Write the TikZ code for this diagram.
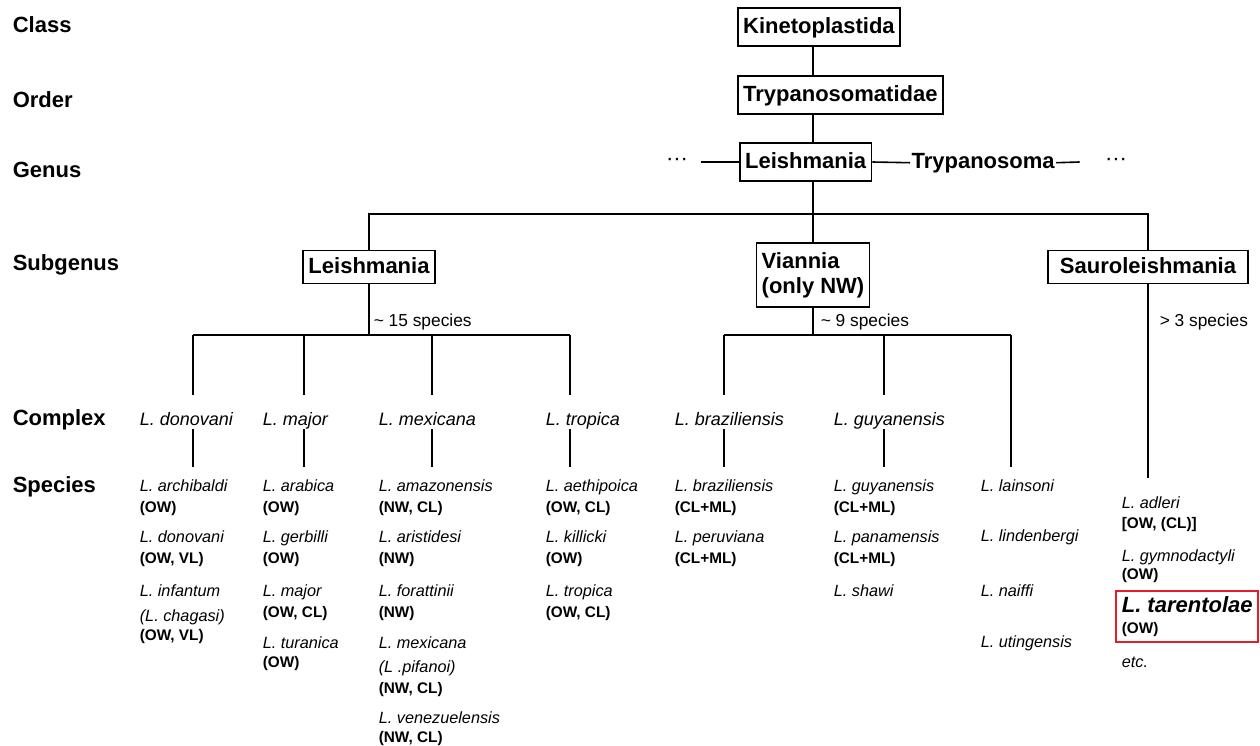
\documentclass[tikz,border=0pt]{standalone}
\usepackage{fontspec}
\setmainfont{Liberation Sans}
\usetikzlibrary{fit}
\definecolor{markred}{RGB}{226,30,42}

\begin{document}
\begin{tikzpicture}[x=0.75pt, y=-0.75pt, line width=1.2pt,
rankbox/.style={draw, line width=1.2pt, font=\bfseries\fontsize{16.5}{19}\selectfont, inner xsep=4pt, inner ysep=0pt, minimum height=28.5pt, text height=12.5pt, text depth=3.5pt},
subbox/.style={rankbox, minimum height=25pt},
twobox/.style={draw, line width=1.2pt, font=\bfseries\fontsize{16.5}{19}\selectfont, inner xsep=4pt, align=left, minimum height=48pt},
ranklabel/.style={font=\bfseries\fontsize{16.5}{19}\selectfont, anchor=base west, inner sep=0pt},
ellip/.style={font=\fontsize{16.5}{19}\selectfont, inner ysep=0pt},
complexname/.style={font=\itshape\fontsize{13.5}{16}\selectfont, anchor=base west, inner sep=0pt, text height=10.1pt, text depth=2.7pt},
speciesname/.style={font=\itshape\fontsize{12.2}{14}\selectfont, anchor=base west, inner sep=0pt, text height=9.15pt, text depth=2.4pt},
distrib/.style={font=\bfseries\fontsize{11.5}{13}\selectfont, anchor=base west, inner sep=0pt},
spcount/.style={font=\fontsize{13}{15}\selectfont, anchor=base west, inner sep=0pt},
highlight/.style={font=\bfseries\itshape\fontsize{16.5}{19}\selectfont, anchor=base west, inner sep=0pt},
tocomplex/.style={shorten >=12pt},
tospecies/.style={shorten >=8pt},
]
\useasboundingbox (0,0) rectangle (1260,746);

%Rank labels
\node[ranklabel] (lclass) at (12,32) {Class};
\node[ranklabel] (lorder) at (12,107) {Order};
\node[ranklabel] (lgenus) at (12,177) {Genus};
\node[ranklabel] (lsub) at (12,270) {Subgenus};
\node[ranklabel] (lcomp) at (12,425) {Complex};
\node[ranklabel] (lspec) at (12,492) {Species};

%Upper boxes
\node[rankbox, anchor=west] (kin) at (737,27) {Kinetoplastida};
\node[rankbox, anchor=west] (tryp) at (737,95) {Trypanosomatidae};
\node[rankbox, anchor=west] (genus) at (739,162) {Leishmania};
\coordinate (spine) at (813,0);
\coordinate (sgbar) at (813,214);

%Genus row
\node[ellip, inner xsep=9pt] (dotsl) at (677,162) {\textperiodcentered\textperiodcentered\textperiodcentered};
\node[ranklabel, inner xsep=0.6pt] (trypa) at (910,168) {Trypanosoma};
\node[ellip, inner xsep=18.5pt] (dotsr) at (1116,162) {\textperiodcentered\textperiodcentered\textperiodcentered};

%Subgenus
\node[subbox] (leish) at (369,267) {Leishmania};
\node[twobox] (vian) at (813,275) {Viannia\\(only NW)};
\node[subbox, minimum width=150pt] (sauro) at (1148,267) {Sauroleishmania};

\node[spcount] (n15) at (373,326) {\textasciitilde{} 15 species};
\node[spcount] (n9) at (820,326) {\textasciitilde{} 9 species};
\node[spcount] (n3) at (1159,326) {> 3 species};

\coordinate (lhub) at (369,335);
\coordinate (jdon) at (193,335);
\coordinate (jmaj) at (304,335);
\coordinate (jmex) at (432,335);
\coordinate (jtro) at (570,335);
\coordinate (vhub) at (813,335);
\coordinate (jbra) at (724,335);
\coordinate (jguy) at (884,335);
\coordinate (jlai) at (1011,335);

%Complex
\node[complexname] (cdon) at (139,425) {L. donovani};
\node[complexname] (cmaj) at (262,425) {L. major};
\node[complexname] (cmex) at (378,425) {L. mexicana};
\node[complexname] (ctro) at (545,425) {L. tropica};
\node[complexname] (cbra) at (674,425) {L. braziliensis};
\node[complexname] (cguy) at (833,425) {L. guyanensis};

%Species: L. donovani complex
\node[speciesname] (archi) at (139,491) {L. archibaldi};
\node[distrib] (architag) at (139,512) {(OW)};
\node[speciesname] (dono) at (139,542) {L. donovani};
\node[distrib] (donotag) at (139,563) {(OW, VL)};
\node[speciesname] (infa) at (139,596) {L. infantum};
\node[speciesname] (chag) at (139,621) {(L. chagasi)};
\node[distrib] (infatag) at (139,640) {(OW, VL)};

%Species: L. major complex
\node[speciesname] (arab) at (262,491) {L. arabica};
\node[distrib] (arabtag) at (262,512) {(OW)};
\node[speciesname] (gerb) at (262,542) {L. gerbilli};
\node[distrib] (gerbtag) at (262,563) {(OW)};
\node[speciesname] (majo) at (262,596) {L. major};
\node[distrib] (majotag) at (262,617) {(OW, CL)};
\node[speciesname] (tura) at (262,648) {L. turanica};
\node[distrib] (turatag) at (262,667) {(OW)};

%Species: L. mexicana complex
\node[speciesname] (amaz) at (378,491) {L. amazonensis};
\node[distrib] (amaztag) at (378,512) {(NW, CL)};
\node[speciesname] (aris) at (378,542) {L. aristidesi};
\node[distrib] (aristag) at (378,563) {(NW)};
\node[speciesname] (fora) at (378,596) {L. forattinii};
\node[distrib] (foratag) at (378,617) {(NW)};
\node[speciesname] (mexi) at (378,648) {L. mexicana};
\node[speciesname] (pifa) at (378,672) {(L .pifanoi)};
\node[distrib] (mexitag) at (378,693) {(NW, CL)};
\node[speciesname] (vene) at (378,723) {L. venezuelensis};
\node[distrib] (venetag) at (378,742) {(NW, CL)};

%Species: L. tropica complex
\node[speciesname] (aeth) at (545,491) {L. aethipoica};
\node[distrib] (aethtag) at (545,512) {(OW, CL)};
\node[speciesname] (kill) at (545,542) {L. killicki};
\node[distrib] (killtag) at (545,563) {(OW)};
\node[speciesname] (trop) at (545,596) {L. tropica};
\node[distrib] (troptag) at (545,617) {(OW, CL)};

%Species: Viannia
\node[speciesname] (braz) at (674,491) {L. braziliensis};
\node[distrib] (braztag) at (674,512) {(CL+ML)};
\node[speciesname] (peru) at (674,542) {L. peruviana};
\node[distrib] (perutag) at (674,563) {(CL+ML)};
\node[speciesname] (guya) at (833,491) {L. guyanensis};
\node[distrib] (guyatag) at (833,512) {(CL+ML)};
\node[speciesname] (pana) at (833,542) {L. panamensis};
\node[distrib] (panatag) at (833,563) {(CL+ML)};
\node[speciesname] (shaw) at (833,596) {L. shawi};
\node[speciesname] (lain) at (980,491) {L. lainsoni};
\node[speciesname] (lind) at (980,541) {L. lindenbergi};
\node[speciesname] (naif) at (980,596) {L. naiffi};
\node[speciesname] (utin) at (980,647) {L. utingensis};

%Species: Sauroleishmania
\node[speciesname] (adle) at (1121,508) {L. adleri};
\node[distrib] (adletag) at (1121,528) {[OW, (CL)]};
\node[speciesname] (gymn) at (1121,561) {L. gymnodactyli};
\node[distrib] (gymntag) at (1121,579) {(OW)};
\node[highlight] (tare) at (1121,612) {L. tarentolae};
\node[distrib] (taretag) at (1121,633) {(OW)};
\node[draw=markred, line width=1.5pt, inner sep=3.5pt, fit=(tare)(taretag)] (tarebox) {};
\node[speciesname] (etc) at (1121,667) {etc.};

%Lines
\draw (kin.south -| spine) -- (tryp.north -| spine);
\draw (tryp.south -| spine) -- (genus.north -| spine);
\draw (genus.south -| spine) -- (sgbar);
\draw (dotsl.east) -- (genus.west);
\draw (genus.east) -- (trypa.west);
\draw (trypa.east) -- (dotsr.west);

\draw (leish.north) |- (sgbar) -| (sauro.north);
\draw (sgbar) -- (vian.north);

\draw (leish.south) -- (lhub);
\draw (jdon) -- (jtro);
\draw[tocomplex] (jdon) -- (jdon |- cdon.north);
\draw[tocomplex] (jmaj) -- (jmaj |- cmaj.north);
\draw[tocomplex] (jmex) -- (jmex |- cmex.north);
\draw[tocomplex] (jtro) -- (jtro |- ctro.north);
\draw[tospecies] (jdon |- cdon.south) -- (jdon |- archi.north);
\draw[tospecies] (jmaj |- cmaj.south) -- (jmaj |- arab.north);
\draw[tospecies] (jmex |- cmex.south) -- (jmex |- amaz.north);
\draw[tospecies] (jtro |- ctro.south) -- (jtro |- aeth.north);

\draw (vian.south) -- (vhub);
\draw (jbra) -- (jlai);
\draw[tocomplex] (jbra) -- (jbra |- cbra.north);
\draw[tocomplex] (jguy) -- (jguy |- cguy.north);
\draw[tospecies] (jbra |- cbra.south) -- (jbra |- braz.north);
\draw[tospecies] (jguy |- cguy.south) -- (jguy |- guya.north);
\draw[tospecies] (jlai) -- (jlai |- lain.north);

\draw[shorten >=12.5pt] (sauro.south) -- (sauro.south |- adle.north);
\end{tikzpicture}
\end{document}
